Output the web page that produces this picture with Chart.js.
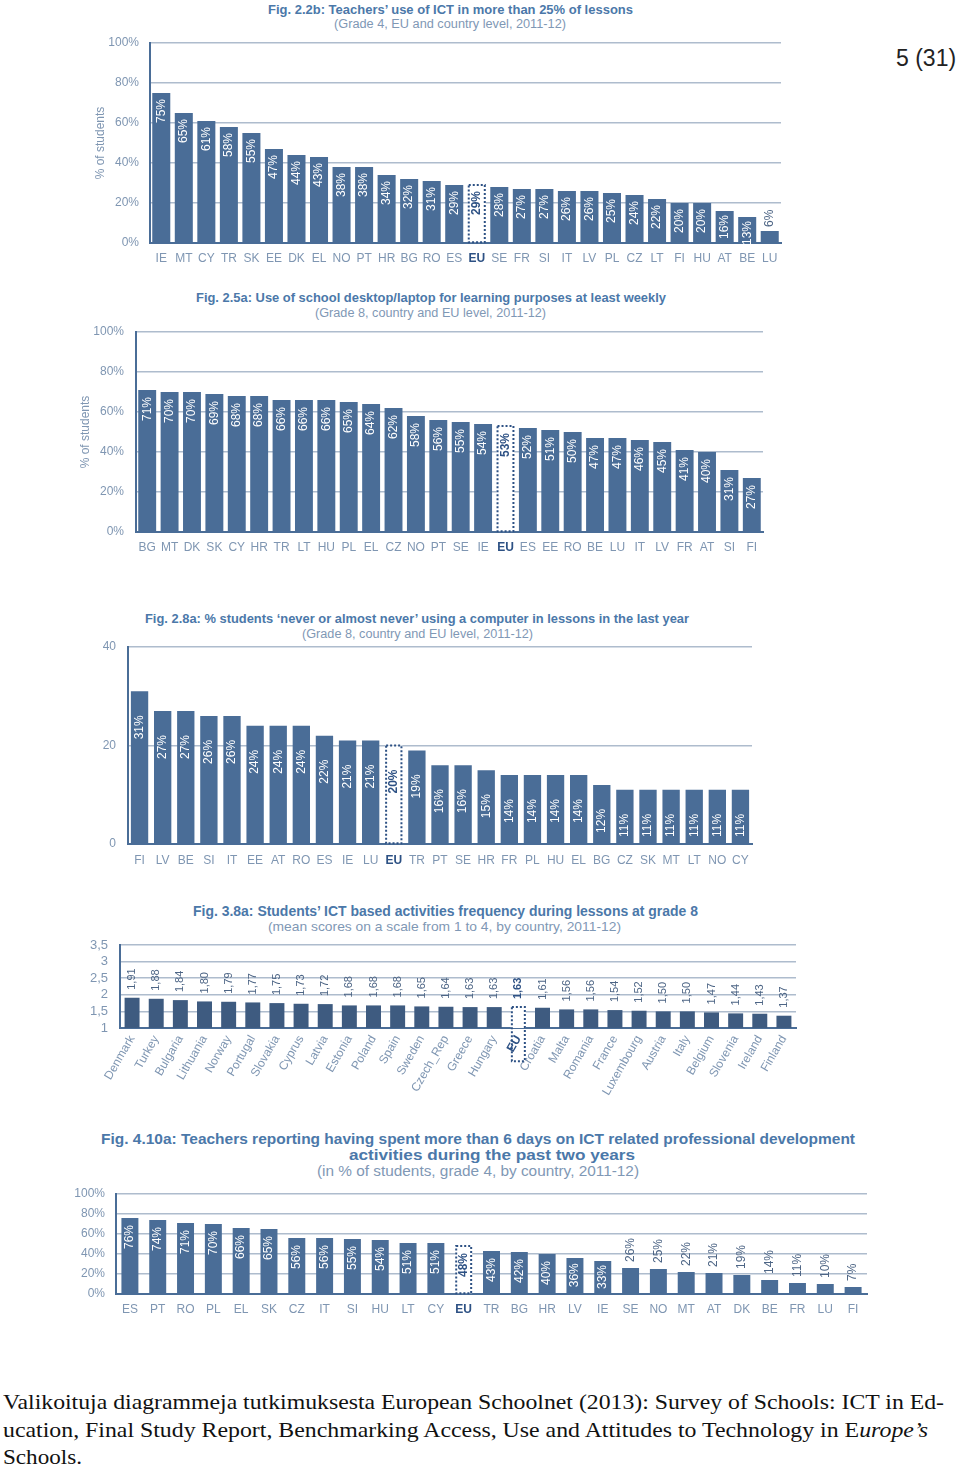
<!DOCTYPE html>
<html>
<head>
<meta charset="utf-8">
<title>Valikoituja diagrammeja</title>
<script src="https://cdn.jsdelivr.net/npm/chart.js@4.4.1/dist/chart.umd.min.js"></script>
<style>
  body { margin: 0; background: #fff; }
  #page { position: relative; width: 960px; height: 1467px; overflow: hidden; background: #fff; }
  canvas { position: absolute; }
  .fit { position: absolute; white-space: nowrap; display: inline-block; transform-origin: 0 50%; line-height: 1.2; }
  .ttl { font-family: "Liberation Sans Narrow", "Liberation Sans", Arial, sans-serif; font-weight: bold; color: #4b78a9; }
  .sub { font-family: "Liberation Sans Narrow", "Liberation Sans", Arial, sans-serif; color: #7f98b5; }
  .foot { font-family: "Liberation Serif", "Times New Roman", serif; font-size: 22px; color: #111; }
  #pageno { position: absolute; left: 896px; top: 45px; font-family: "Liberation Sans", Arial, sans-serif; font-size: 23px; color: #222; }
</style>
</head>
<body>
<div id="page">
  <div id="pageno">5 (31)</div>

  <span class="fit ttl" style="font-size:13px" data-x="268" data-w="365" data-y="10">Fig. 2.2b: Teachers’ use of ICT in more than 25% of lessons</span>
  <span class="fit sub" style="font-size:12px" data-x="334" data-w="232" data-y="24">(Grade 4, EU and country level, 2011-12)</span>
  <canvas id="fig1" width="708" height="240" style="left:85px;top:35px"></canvas>

  <span class="fit ttl" style="font-size:13px" data-x="196" data-w="470" data-y="298">Fig. 2.5a: Use of school desktop/laptop for learning purposes at least weekly</span>
  <span class="fit sub" style="font-size:12px" data-x="315" data-w="231" data-y="313">(Grade 8, country and EU level, 2011-12)</span>
  <canvas id="fig2" width="705" height="240" style="left:70px;top:324px"></canvas>

  <span class="fit ttl" style="font-size:13px" data-x="145" data-w="544" data-y="619">Fig. 2.8a: % students ‘never or almost never’ using a computer in lessons in the last year</span>
  <span class="fit sub" style="font-size:12px" data-x="302" data-w="231" data-y="634">(Grade 8, country and EU level, 2011-12)</span>
  <canvas id="fig3" width="665" height="235" style="left:95px;top:640px"></canvas>

  <span class="fit ttl" style="font-size:14px" data-x="193" data-w="505" data-y="911">Fig. 3.8a: Students’ ICT based activities frequency during lessons at grade 8</span>
  <span class="fit sub" style="font-size:13px" data-x="268" data-w="353" data-y="927">(mean scores on a scale from 1 to 4, by country, 2011-12)</span>
  <canvas id="fig4" width="740" height="160" style="left:70px;top:938px"></canvas>

  <span class="fit ttl" style="font-size:15px" data-x="101" data-w="754" data-y="1139">Fig. 4.10a: Teachers reporting having spent more than 6 days on ICT related professional development</span>
  <span class="fit ttl" style="font-size:15px" data-x="349" data-w="286" data-y="1155">activities during the past two years</span>
  <span class="fit sub" style="font-size:14px" data-x="317" data-w="322" data-y="1171">(in % of students, grade 4, by country, 2011-12)</span>
  <canvas id="fig5" width="815" height="135" style="left:60px;top:1185px"></canvas>

  <span class="fit foot" data-x="3" data-w="941" data-y="1402">Valikoituja diagrammeja tutkimuksesta European Schoolnet (2013): Survey of Schools: ICT in Ed-</span>
  <span class="fit foot" data-x="3" data-w="925" data-y="1430">ucation, Final Study Report, Benchmarking Access, Use and Attitudes to Technology in E<i>urope’s</i></span>
  <span class="fit foot" data-x="3" data-w="79" data-y="1457">Schools.</span>
</div>

<script>
// Fig. 2.2b
const fig1Labels = ["IE", "MT", "CY", "TR", "SK", "EE", "DK", "EL", "NO", "PT", "HR", "BG", "RO", "ES", "EU",
  "SE", "FR", "SI", "IT", "LV", "PL", "CZ", "LT", "FI", "HU", "AT", "BE", "LU"];
const fig1Values = [75, 65, 61, 58, 55, 47, 44, 43, 38, 38, 34, 32, 31, 29, 29,
  28, 27, 27, 26, 26, 25, 24, 22, 20, 20, 16, 13, 6];

// Fig. 2.5a
const fig2Labels = ["BG", "MT", "DK", "SK", "CY", "HR", "TR", "LT", "HU", "PL", "EL", "CZ", "NO", "PT", "SE", "IE",
  "EU", "ES", "EE", "RO", "BE", "LU", "IT", "LV", "FR", "AT", "SI", "FI"];
const fig2Values = [71, 70, 70, 69, 68, 68, 66, 66, 66, 65, 64, 62, 58, 56, 55, 54,
  53, 52, 51, 50, 47, 47, 46, 45, 41, 40, 31, 27];

// Fig. 2.8a
const fig3Labels = ["FI", "LV", "BE", "SI", "IT", "EE", "AT", "RO", "ES", "IE", "LU", "EU",
  "TR", "PT", "SE", "HR", "FR", "PL", "HU", "EL", "BG", "CZ", "SK", "MT", "LT", "NO", "CY"];
const fig3Values = [31, 27, 27, 26, 26, 24, 24, 24, 22, 21, 21, 20,
  19, 16, 16, 15, 14, 14, 14, 14, 12, 11, 11, 11, 11, 11, 11];

// Fig. 3.8a
const fig4Labels = ["Denmark", "Turkey", "Bulgaria", "Lithuania", "Norway", "Portugal", "Slovakia", "Cyprus",
  "Latvia", "Estonia", "Poland", "Spain", "Sweden", "Czech_Rep", "Greece", "Hungary", "EU", "Croatia",
  "Malta", "Romania", "France", "Luxembourg", "Austria", "Italy", "Belgium", "Slovenia", "Ireland", "Finland"];
const fig4Values = [1.91, 1.88, 1.84, 1.80, 1.79, 1.77, 1.75, 1.73, 1.72, 1.68, 1.68, 1.68, 1.65, 1.64,
  1.63, 1.63, 1.63, 1.61, 1.56, 1.56, 1.54, 1.52, 1.50, 1.50, 1.47, 1.44, 1.43, 1.37];

// Fig. 4.10a
const fig5Labels = ["ES", "PT", "RO", "PL", "EL", "SK", "CZ", "IT", "SI", "HU", "LT", "CY", "EU",
  "TR", "BG", "HR", "LV", "IE", "SE", "NO", "MT", "AT", "DK", "BE", "FR", "LU", "FI"];
const fig5Values = [76, 74, 71, 70, 66, 65, 56, 56, 55, 54, 51, 51, 48,
  43, 42, 40, 36, 33, 26, 25, 22, 21, 19, 14, 11, 10, 7];

const FONT = '"Liberation Sans", Arial, sans-serif';
const BAR = "#4a6d97";
const AXIS = "#4a6d97";
const GRID = "#aebccd";
const TICK = "#7f96b2";
const EU_DARK = "#2d5184";

// draws the dotted EU bar and the rotated value labels
const barText = {
  id: "barText",
  afterDatasetsDraw(chart, args, opts) {
    const ctx = chart.ctx;
    const meta = chart.getDatasetMeta(0);
    const values = chart.data.datasets[0].data;
    const labels = chart.data.labels;
    ctx.save();
    meta.data.forEach((bar, i) => {
      const isEU = labels[i] === "EU";
      const v = values[i];
      const text = opts.comma ? v.toFixed(2).replace(".", ",") : v + "%";
      if (isEU) {
        ctx.save();
        ctx.setLineDash([2, 2]);
        ctx.lineWidth = 2;
        ctx.strokeStyle = EU_DARK;
        ctx.strokeRect(bar.x - bar.width / 2 + 1, bar.y, bar.width - 2, bar.base - bar.y);
        ctx.restore();
      }
      ctx.font = (isEU ? "bold " : "") + opts.size + "px " + FONT;
      const tw = ctx.measureText(text).width;
      const h = bar.base - bar.y;
      ctx.save();
      if (v >= opts.insideMin) {
        const off = Math.max(4, Math.min(opts.offset, h - tw - 6));
        ctx.translate(bar.x, bar.y + off);
        ctx.rotate(-Math.PI / 2);
        ctx.textAlign = "right";
        ctx.fillStyle = isEU ? EU_DARK : "#ffffff";
      } else {
        ctx.translate(bar.x, bar.y - opts.gap);
        ctx.rotate(-Math.PI / 2);
        ctx.textAlign = "left";
        ctx.fillStyle = isEU ? EU_DARK : opts.outColor;
      }
      ctx.textBaseline = "middle";
      ctx.fillText(text, 0, 0);
      ctx.restore();
    });
    ctx.restore();
  }
};

const makeChart = (id, labels, values, o) => {
  const ctx = document.getElementById(id).getContext("2d");
  return new Chart(ctx, {
    type: "bar",
    data: {
      labels: labels,
      datasets: [{
        data: values,
        backgroundColor: labels.map(l => l === "EU" ? "#ffffff" : o.color),
        borderWidth: 0,
        barPercentage: o.barPct,
        categoryPercentage: 1
      }]
    },
    plugins: [barText],
    options: {
      responsive: false,
      animation: false,
      layout: { padding: { top: o.padTop, right: o.padRight, left: 0, bottom: 0 } },
      plugins: {
        legend: { display: false },
        tooltip: { enabled: false },
        barText: o.text
      },
      scales: {
        x: {
          afterFit: s => { s.height = o.xh; s.paddingLeft = 0; s.paddingRight = 0; },
          grid: { display: false, drawTicks: false },
          border: { color: AXIS, width: 2 },
          ticks: {
            autoSkip: false,
            minRotation: o.rot || 0,
            maxRotation: o.rot || 0,
            padding: o.xPad,
            color: c => (c.tick && c.tick.label === "EU") ? EU_DARK : TICK,
            font: c => ({ family: FONT, size: o.xFont, weight: (c.tick && c.tick.label === "EU") ? "bold" : "normal" })
          }
        },
        y: {
          min: o.min,
          max: o.max,
          afterFit: s => { s.width = o.yw; s.paddingTop = 0; s.paddingBottom = 0; },
          grid: { color: GRID, lineWidth: 1.5, drawTicks: false },
          border: { color: AXIS, width: 2 },
          title: o.yTitle
            ? { display: true, text: o.yTitle, color: TICK, font: { family: FONT, size: 12 }, padding: { top: 8, bottom: 0 } }
            : { display: false },
          ticks: {
            autoSkip: false,
            stepSize: o.step,
            padding: o.yPad,
            color: TICK,
            font: { family: FONT, size: o.yFont },
            callback: o.tickFmt
          }
        }
      }
    }
  });
};

const pct = v => v + "%";

makeChart("fig1", fig1Labels, fig1Values, {
  color: BAR, barPct: 0.8, padTop: 8, padRight: 12, xh: 32, yw: 65, xPad: 8, yPad: 11, xFont: 12, yFont: 12,
  min: 0, max: 100, step: 20, tickFmt: pct, yTitle: "% of students",
  text: { size: 12, insideMin: 10, offset: 6, gap: 4, outColor: "#4d6585" }
});

makeChart("fig2", fig2Labels, fig2Values, {
  color: BAR, barPct: 0.8, padTop: 8, padRight: 12, xh: 32, yw: 66, xPad: 8, yPad: 12, xFont: 12, yFont: 12,
  min: 0, max: 100, step: 20, tickFmt: pct, yTitle: "% of students",
  text: { size: 12, insideMin: 10, offset: 7, gap: 4, outColor: "#4d6585" }
});

makeChart("fig3", fig3Labels, fig3Values, {
  color: BAR, barPct: 0.75, padTop: 7, padRight: 8, xh: 31, yw: 33, xPad: 9, yPad: 12, xFont: 12, yFont: 12,
  min: 0, max: 40, step: 20, tickFmt: v => String(v),
  text: { size: 12, insideMin: 5, offset: 24, gap: 4, outColor: "#4d6585" }
});

makeChart("fig4", fig4Labels, fig4Values, {
  color: "#3e5b80", barPct: 0.62, padTop: 7, padRight: 14, xh: 70, yw: 50, xPad: 5, yPad: 12, rot: 60,
  xFont: 12, yFont: 13, min: 1, max: 3.5, step: 0.5, tickFmt: v => String(v).replace(".", ","),
  text: { size: 11, insideMin: 99, offset: 6, gap: 8, outColor: "#4d6585", comma: true }
});

makeChart("fig5", fig5Labels, fig5Values, {
  color: BAR, barPct: 0.61, padTop: 9, padRight: 8, xh: 26, yw: 56, xPad: 8, yPad: 11, xFont: 12, yFont: 12,
  min: 0, max: 100, step: 20, tickFmt: pct,
  text: { size: 12, insideMin: 30, offset: 7, gap: 6, outColor: "#4d6585" }
});

// squeeze text spans to the widths measured on the reference
document.querySelectorAll(".fit").forEach(el => {
  el.style.left = el.dataset.x + "px";
  const r = el.getBoundingClientRect();
  el.style.top = (+el.dataset.y - r.height / 2) + "px";
  el.style.transform = "scaleX(" + (+el.dataset.w / r.width) + ")";
});
</script>
</body>
</html>
